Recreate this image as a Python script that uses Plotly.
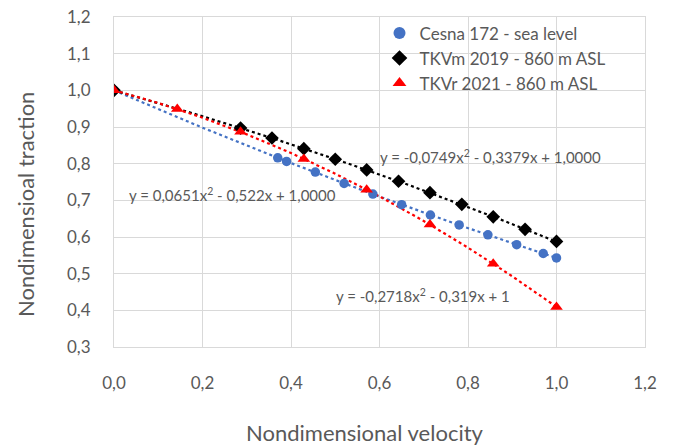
import numpy as np
import plotly.graph_objects as go

# Data
cesna_x = [0.0, 0.37, 0.39, 0.455, 0.52, 0.585, 0.65, 0.715, 0.78, 0.845, 0.91, 0.97, 1.0]
cesna_y = [1.0, 0.816, 0.806, 0.777, 0.746, 0.717, 0.688, 0.660, 0.633, 0.606, 0.579, 0.555, 0.543]

tkvm_x = [0.0, 0.286, 0.357, 0.429, 0.5, 0.571, 0.643, 0.714, 0.786, 0.857, 0.929, 1.0]
tkvm_y = [1.0, 0.897, 0.870, 0.841, 0.812, 0.783, 0.752, 0.721, 0.689, 0.655, 0.621, 0.588]

tkvr_x = [0.0, 0.143, 0.286, 0.429, 0.571, 0.714, 0.857, 1.0]
tkvr_y = [1.0, 0.949, 0.887, 0.813, 0.729, 0.634, 0.527, 0.409]

# Trendline coefficients (a x^2 + b x + c), as printed on chart
cesna_coef = [0.0651, -0.522, 1.0]
tkvm_coef = [-0.0749, -0.3379, 1.0]
tkvr_coef = [-0.2718, -0.319, 1.0]

labels = ["Cesna 172 - sea level", "TKVm 2019 - 860 m ASL", "TKVr 2021 - 860 m ASL"]
eq_texts = ["y = 0,0651x<sup>2</sup> - 0,522x + 1,0000",
            "y = -0,0749x<sup>2</sup> - 0,3379x + 1,0000",
            "y = -0,2718x<sup>2</sup> - 0,319x + 1"]
x_title = "Nondimensional velocity"
y_title = "Nondimensioal traction"

xticks = [0.0, 0.2, 0.4, 0.6, 0.8, 1.0, 1.2]
yticks = [0.3, 0.4, 0.5, 0.6, 0.7, 0.8, 0.9, 1.0, 1.1, 1.2]

FONT = "Lato"
GREY = "#595959"
GRID = "#D9D9D9"

fig = go.Figure()
tx = np.linspace(0, 1, 101)
colors = ["#4472C4", "#000000", "#FF0000"]
for coef, col in zip([cesna_coef, tkvm_coef, tkvr_coef], colors):
    fig.add_trace(go.Scatter(x=tx, y=np.polyval(coef, tx), mode="lines",
                             line=dict(color=col, width=2.2, dash="dot"),
                             showlegend=False, hoverinfo="skip"))

fig.add_trace(go.Scatter(x=cesna_x, y=cesna_y, mode="markers", name=labels[0],
                         marker=dict(symbol="circle", size=9.5, color=colors[0])))
fig.add_trace(go.Scatter(x=tkvm_x, y=tkvm_y, mode="markers", name=labels[1],
                         marker=dict(symbol="diamond", size=10.5, color=colors[1])))
fig.add_trace(go.Scatter(x=tkvr_x, y=tkvr_y, mode="markers", name=labels[2],
                         marker=dict(symbol="triangle-up", size=11, color=colors[2])))

annots = [
    dict(x=0.03, y=0.715, text=eq_texts[0]),
    dict(x=0.596, y=0.819, text=eq_texts[1]),
    dict(x=0.498, y=0.441, text=eq_texts[2]),
]
for a in annots:
    fig.add_annotation(x=a["x"], y=a["y"], text=a["text"], xanchor="left",
                       yanchor="middle", showarrow=False,
                       font=dict(family=FONT, size=15, color=GREY))

# Axis titles (offset like the original chart area centring)
fig.add_annotation(xref="paper", yref="paper", x=0.473, y=-0.258, text=x_title,
                   xanchor="center", yanchor="middle", showarrow=False,
                   font=dict(family=FONT, size=22, color=GREY))
fig.add_annotation(xref="paper", yref="paper", x=-0.168, y=0.433, text=y_title,
                   textangle=-90, xanchor="center", yanchor="middle", showarrow=False,
                   font=dict(family=FONT, size=22, color=GREY))

fig.update_layout(
    width=673, height=445,
    margin=dict(l=114, r=28, t=17, b=98, autoexpand=False),
    paper_bgcolor="white", plot_bgcolor="white",
    font=dict(family=FONT, color=GREY),
    legend=dict(x=0.50, y=1.005, xanchor="left", yanchor="top",
                bgcolor="rgba(0,0,0,0)", font=dict(size=17, color=GREY, family=FONT),
                itemsizing="constant", tracegroupgap=0),
    xaxis=dict(range=[0, 1.2], tickvals=xticks,
               ticktext=[f"{v:.1f}".replace(".", ",") for v in xticks],
               showgrid=True, gridcolor=GRID, gridwidth=1,
               zeroline=False, showline=True, mirror=True, linecolor=GRID,
               ticks="outside", ticklen=21, tickcolor="rgba(0,0,0,0)",
               ticklabeloverflow="allow",
               tickfont=dict(size=17, color=GREY)),
    yaxis=dict(range=[0.3, 1.2], tickvals=yticks,
               ticktext=[f"{v:.1f}".replace(".", ",") for v in yticks],
               showgrid=True, gridcolor=GRID, gridwidth=1,
               zeroline=False, showline=True, mirror=True, linecolor=GRID,
               ticks="outside", ticklen=19, tickcolor="rgba(0,0,0,0)",
               ticklabeloverflow="allow",
               tickfont=dict(size=17, color=GREY)),
)

fig.write_html("out.html",
               config={"displayModeBar": False},
               post_script="document.body.style.margin='0';document.body.style.overflow='hidden';")
